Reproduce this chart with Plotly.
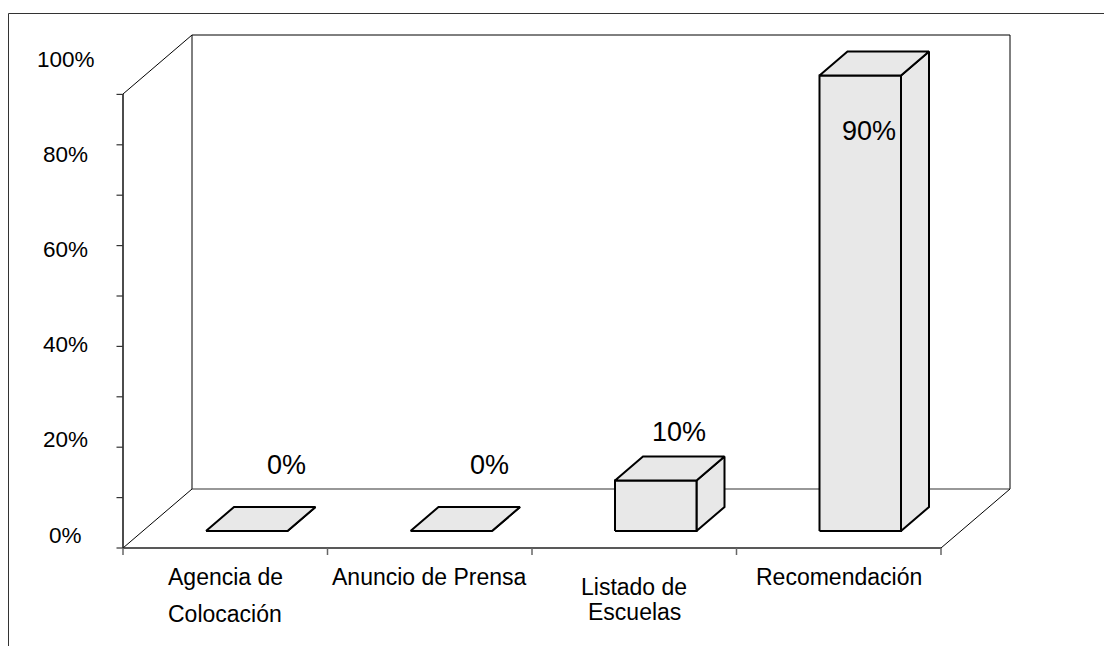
import plotly.graph_objects as go

# ---------------- data ----------------
categories = ["Agencia de\nColocación", "Anuncio de Prensa", "Listado de\nEscuelas", "Recomendación"]
values = [0, 0, 10, 90]                      # percent
y_tick_values = [0, 20, 40, 60, 80, 100]
y_tick_labels = ["0%", "20%", "40%", "60%", "80%", "100%"]

# ---------------- geometry / style (pixel space, y grows downward) ----------------
W, H = 1104, 646
FONT = "Liberation Sans, Arial, Helvetica, sans-serif"
X0, X1 = 123, 941          # front floor edge
FLOOR_Y = 548              # front floor edge y
DEPTH_DX, DEPTH_DY = 69, -59
WALL_H = 454               # wall height in px
CAT_W = (X1 - X0) / len(categories)
BAR_OFF = 83               # bar front-left offset inside category
BAR_W = 81.5
BAR_BASE_Y = 531
BAR_DX, BAR_DY = 28, -24
PX_PER_PCT = 5.06
TICK_STEP_PX = 50.4
N_YTICKS = 10
LABEL_Y0, LABEL_PX_PER_PCT = 535, 4.76
LABEL_X = 65.5
BAR_FILL = "#E8E8E8"
# data-label offsets relative to the bar's front-top centre
label_offsets = [(40, -66), (38.5, -66), (23.5, -48), (8.5, 55)]
# category label line layout
cat_first_line_y = [577, 577, 586.5, 577]
cat_line_gap = [36.5, 0, 25, 0]

fig = go.Figure()


def line(xs, ys, color="#000000", width=1):
    fig.add_trace(go.Scatter(x=xs, y=ys, mode="lines", line=dict(color=color, width=width),
                             hoverinfo="skip", showlegend=False))


def poly(xs, ys):
    fig.add_trace(go.Scatter(x=xs + [xs[0]], y=ys + [ys[0]], mode="lines", fill="toself",
                             fillcolor=BAR_FILL, line=dict(color="#000000", width=2),
                             hoverinfo="skip", showlegend=False))


# outer frame (cropped on right and bottom)
line([8.5, 8.5, W + 50], [H + 50, 13.5, 13.5], color="#333333", width=1)

# walls
bx0, bx1 = X0 + DEPTH_DX, X1 + DEPTH_DX
by = FLOOR_Y + DEPTH_DY
top_front = FLOOR_Y - WALL_H
top_back = by - WALL_H
line([bx0, bx0, bx1, bx1], [by, top_back, top_back, by])                # back wall
line([X0, bx0], [top_front, top_back])                                    # left wall top
line([X0, bx0], [FLOOR_Y, by])                                            # floor left
line([bx0, bx1], [by, by], color="#333333", width=1.2)                    # floor back
line([X1, bx1], [FLOOR_Y, by])                                            # floor right
line([X0, X0], [FLOOR_Y, top_front], color="#111111", width=1.5)          # value axis
line([X0, X1], [FLOOR_Y, FLOOR_Y], color="#222222", width=1.6)            # category axis

# value-axis ticks
for k in range(N_YTICKS):
    ty = FLOOR_Y - k * TICK_STEP_PX
    line([X0 - 6.5, X0], [ty, ty], color="#333333", width=1.2)
# category-axis ticks
for k in range(len(categories) + 1):
    tx = X0 + k * CAT_W
    line([tx, tx], [FLOOR_Y, FLOOR_Y + 7], color="#666666", width=1.5)

# bars
annotations = []
for i, v in enumerate(values):
    xl = X0 + i * CAT_W + BAR_OFF
    xr = xl + BAR_W
    yb = BAR_BASE_Y
    yt = BAR_BASE_Y - v * PX_PER_PCT
    # side face
    poly([xr, xr + BAR_DX, xr + BAR_DX, xr], [yb, yb + BAR_DY, yt + BAR_DY, yt])
    # front face
    if v > 0:
        poly([xl, xr, xr, xl], [yb, yb, yt, yt])
    # top face
    poly([xl, xr, xr + BAR_DX, xl + BAR_DX], [yt, yt, yt + BAR_DY, yt + BAR_DY])
    dx, dy = label_offsets[i]
    annotations.append(dict(x=(xl + xr) / 2 + dx, y=yt + dy, text=f"{v}%", showarrow=False,
                            xref="x", yref="y", xanchor="center", yanchor="middle",
                            font=dict(family=FONT, size=27, color="#000000")))

# value-axis labels
for val, txt in zip(y_tick_values, y_tick_labels):
    annotations.append(dict(x=LABEL_X, y=LABEL_Y0 - val * LABEL_PX_PER_PCT, text=txt, showarrow=False,
                            xref="x", yref="y", xanchor="center", yanchor="middle",
                            font=dict(family=FONT, size=22.5, color="#000000")))

# category labels
for i, cat in enumerate(categories):
    cx = X0 + (i + 0.5) * CAT_W
    for j, ln in enumerate(cat.split("\n")):
        annotations.append(dict(x=cx, y=cat_first_line_y[i] + j * cat_line_gap[i], text=ln,
                                showarrow=False, xref="x", yref="y", xanchor="center",
                                yanchor="middle",
                                font=dict(family=FONT, size=23, color="#000000")))

fig.update_layout(
    width=W, height=H, margin=dict(l=0, r=0, t=0, b=0),
    paper_bgcolor="white", plot_bgcolor="white",
    xaxis=dict(range=[0, W], visible=False, fixedrange=True),
    yaxis=dict(range=[H, 0], visible=False, fixedrange=True),
    annotations=annotations, showlegend=False,
)

fig.write_html("out.html")
